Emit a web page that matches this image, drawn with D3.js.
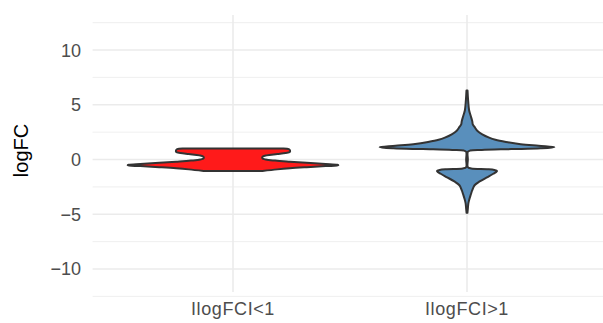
<!DOCTYPE html>
<html>
<head>
<meta charset="utf-8">
<script src="https://cdn.jsdelivr.net/npm/d3@7"></script>
<style>
  html, body { margin: 0; padding: 0; background: #fff; }
  svg { display: block; }
  text { font-family: "Liberation Sans", Arial, Helvetica, sans-serif; }
</style>
</head>
<body>
<svg id="chart" width="603" height="323"></svg>
<script>
// ---- data ----
const categories = ["IlogFCI<1", "IlogFCI>1"];
const yTicks = [-10, -5, 0, 5, 10];
const yMinor = [-12.5, -7.5, -2.5, 2.5, 7.5, 12.5];

// violin profiles: logFC value and relative density (1 = widest violin)
const redY =       [1.0, 0.95, 0.85, 0.7, 0.6, 0.5, 0.38, 0.25, 0.1, 0.0, -0.1, -0.2, -0.3, -0.4, -0.48, -0.53, -0.6, -0.7, -0.8, -0.9, -1.05];
const redDensity = [0.48, 0.53, 0.54, 0.54, 0.50, 0.42, 0.32, 0.28, 0.28, 0.31, 0.40, 0.54, 0.70, 0.88, 0.99, 1.0, 0.88, 0.70, 0.54, 0.42, 0.28];

const blueY =       [6.3, 5.5, 4.5, 4.0, 3.5, 3.2, 3.0, 2.6, 2.3, 2.0, 1.8, 1.6, 1.4, 1.25, 1.12, 1.02, 0.95, 0.88, 0.82, 0.7, 0.0, -0.7, -0.82, -0.88, -0.95, -1.05, -1.15, -1.3, -1.6, -2.0, -2.35, -2.8, -3.2, -3.6, -4.0, -4.5, -4.87];
const blueDensity = [0.005, 0.01, 0.02, 0.035, 0.05, 0.055, 0.07, 0.10, 0.145, 0.21, 0.27, 0.37, 0.51, 0.68, 0.83, 0.70, 0.42, 0.14, 0.03, 0.008, 0.008, 0.008, 0.04, 0.19, 0.26, 0.285, 0.275, 0.25, 0.195, 0.12, 0.072, 0.05, 0.036, 0.023, 0.013, 0.008, 0.004];

const fills = ["#FF1A1A", "#598FBC"];

// ---- layout ----
const svg = d3.select("#chart");
const panel = { left: 92.6, right: 607.4, top: 15, bottom: 292 };

const y = d3.scaleLinear().domain([-12.1, 13.2]).range([panel.bottom, panel.top]);
const x = d3.scalePoint().domain(categories).range([panel.left, panel.right]).padding(0.6);
const halfWidth = d3.scaleLinear().domain([0, 1]).range([0, 0.45 * x.step()]);

// grid
const grid = svg.append("g");
grid.selectAll("line.minor").data(yMinor).join("line")
  .attr("x1", panel.left).attr("x2", panel.right)
  .attr("y1", d => y(d)).attr("y2", d => y(d))
  .attr("stroke", "#EBEBEB").attr("stroke-width", 0.8);
grid.selectAll("line.major").data(yTicks).join("line")
  .attr("x1", panel.left).attr("x2", panel.right)
  .attr("y1", d => y(d)).attr("y2", d => y(d))
  .attr("stroke", "#EBEBEB").attr("stroke-width", 1.6);
grid.selectAll("line.vx").data(categories).join("line")
  .attr("x1", d => x(d)).attr("x2", d => x(d))
  .attr("y1", panel.top).attr("y2", panel.bottom)
  .attr("stroke", "#EBEBEB").attr("stroke-width", 1.6);

// violins
const violins = [
  { cat: categories[0], ys: redY, ds: redDensity, fill: fills[0] },
  { cat: categories[1], ys: blueY, ds: blueDensity, fill: fills[1] }
];
violins.forEach(v => {
  const cx = x(v.cat);
  const pts = v.ys.map((val, i) => ({ v: val, d: v.ds[i] }));
  const right = pts.map(p => [cx + halfWidth(p.d), y(p.v)]);
  const left = pts.slice().reverse().map(p => [cx - halfWidth(p.d), y(p.v)]);
  const line = d3.line().curve(d3.curveCatmullRom.alpha(0.5));
  const pathStr = line(right) + "L" + line(left).slice(1) + "Z";
  svg.append("path")
    .attr("d", pathStr)
    .attr("fill", v.fill)
    .attr("stroke", "#333333")
    .attr("stroke-width", 2)
    .attr("stroke-linejoin", "round");
});

// y tick labels
const fmt = d => d < 0 ? "\u2212" + Math.abs(d) : String(d);
svg.append("g").selectAll("text").data(yTicks).join("text")
  .attr("x", 81).attr("y", d => y(d))
  .attr("dy", "0.36em")
  .attr("text-anchor", "end")
  .attr("font-size", 18)
  .attr("fill", "#4D4D4D")
  .text(fmt);

// x tick labels
svg.append("g").selectAll("text").data(categories).join("text")
  .attr("x", d => x(d)).attr("y", 315)
  .attr("text-anchor", "middle")
  .attr("font-size", 18)
  .attr("letter-spacing", 0.6)
  .attr("fill", "#4D4D4D")
  .text(d => d);

// y axis title
svg.append("text")
  .attr("transform", `translate(28,${(panel.top + panel.bottom) / 2 - 3}) rotate(-90)`)
  .attr("text-anchor", "middle")
  .attr("font-size", 20)
  .attr("fill", "#000")
  .text("logFC");
</script>
</body>
</html>
